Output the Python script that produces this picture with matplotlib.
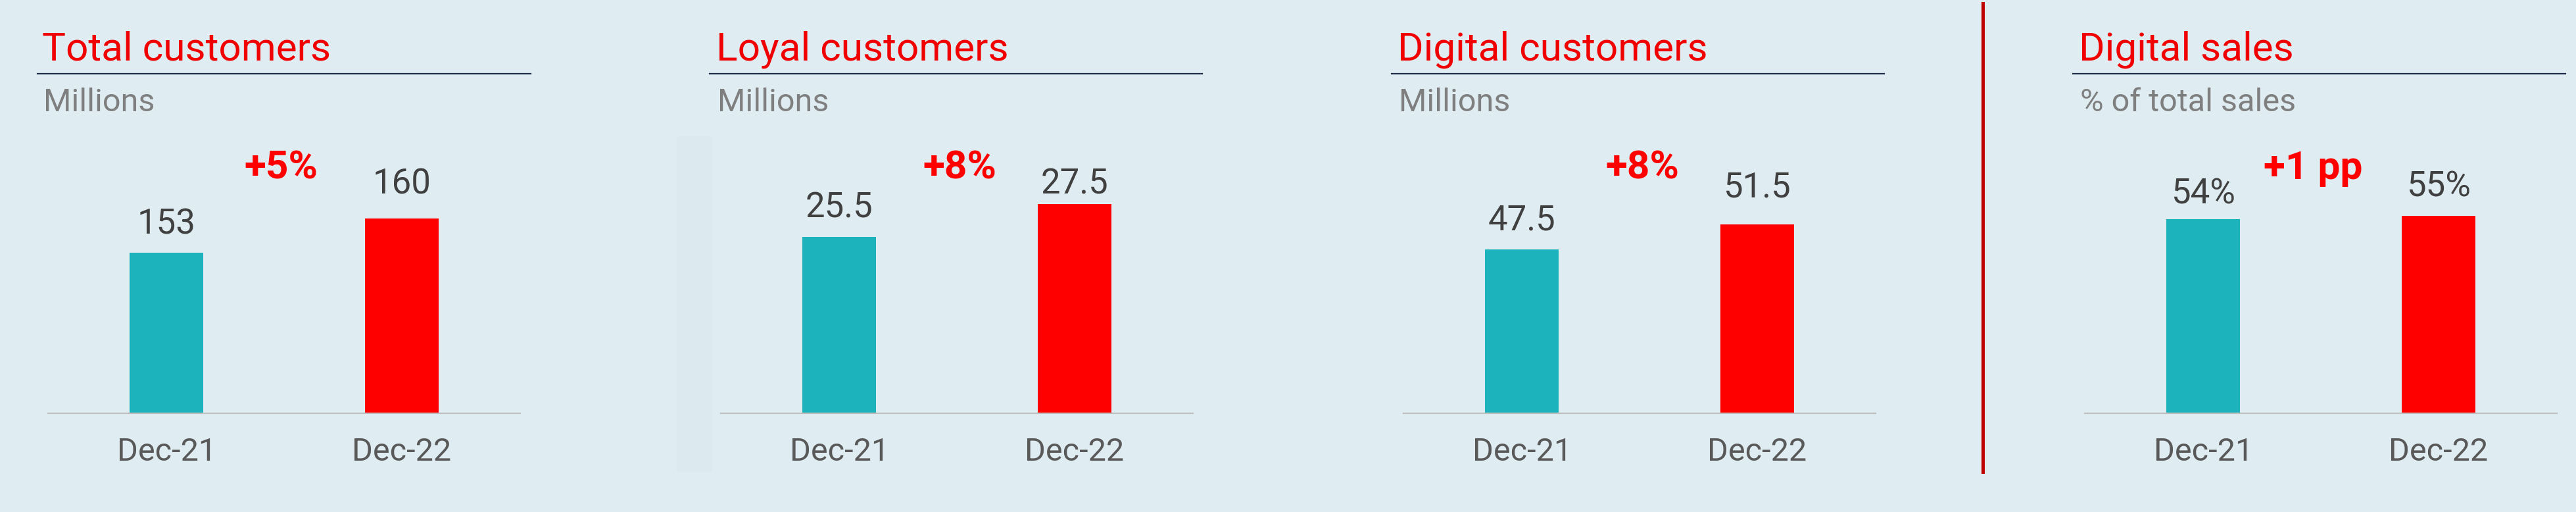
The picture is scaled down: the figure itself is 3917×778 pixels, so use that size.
import matplotlib
matplotlib.use("Agg")
import matplotlib.pyplot as plt
from matplotlib.patches import Rectangle
from matplotlib.lines import Line2D
from matplotlib.transforms import blended_transform_factory

# ---------------- data ----------------
titles = ["Total customers", "Loyal customers", "Digital customers", "Digital sales"]
subtitles = ["Millions", "Millions", "Millions", "% of total sales"]
categories = ["Dec-21", "Dec-22"]
total_customers = [153, 160]
loyal_customers = [25.5, 27.5]
digital_customers = [47.5, 51.5]
digital_sales = [54, 55]
value_labels = [["153", "160"], ["25.5", "27.5"], ["47.5", "51.5"], ["54%", "55%"]]
changes = ["+5%", "+8%", "+8%", "+1 pp"]
series = [total_customers, loyal_customers, digital_customers, digital_sales]

# ---------------- style ----------------
plt.rcParams['font.family'] = ['Roboto', 'DejaVu Sans']
BG = "#DFEDF2"
TEAL = "#1CB3BC"
RED = "#FF0000"
TITLE_RED = "#F00000"
NAVY = "#1F2D4A"
W, H = 3917, 778
DPI = 100

def fx(px):
    return px / W

def fy(py):
    return 1 - py / H

fig = plt.figure(figsize=(W / DPI, H / DPI), dpi=DPI)
fig.patch.set_facecolor(BG)

# layout (pixels)
axes_left = [73, 1096, 2134, 3170]
axes_w = 718
base_y = 628
top_y = 150
title_x = [64, 1089, 2125, 3161]
rule_x = [(57, 807), (1079, 1828), (2116, 2865), (3152, 3901)]
ylims = [(120.2, 184.5), (14.8, 33.9), (21.3, 71.6), (0, 87.5)]
label_gaps = [(29, 38), (30, 16), (30, 42), (24, 29)]  # px above bar top
change_x = [0.486, 0.513, 0.513, 0.467]
change_base = 272

# faint backdrop rectangle in panel 2
fig.patches.append(Rectangle((fx(1030), fy(717)), 52 / W, 510 / H,
                             transform=fig.transFigure, facecolor="#DCEAF0",
                             edgecolor="none", zorder=0))

# red separator
fig.lines.append(Line2D([fx(3015), fx(3015)], [fy(5), fy(717)],
                        transform=fig.transFigure, color="#C00000", lw=3.6))

for i in range(4):
    # title and rule
    fig.text(fx(title_x[i]), fy(91), titles[i], color=TITLE_RED, fontsize=43.5,
             ha="left", va="baseline")
    x0, x1 = rule_x[i]
    fig.lines.append(Line2D([fx(x0), fx(x1)], [fy(112), fy(112)],
                            transform=fig.transFigure, color=NAVY, lw=1.6))
    fig.text(fx(title_x[i] + 2), fy(169), subtitles[i], color="#7F7F7F",
             fontsize=35, ha="left", va="baseline")

    ax = fig.add_axes([fx(axes_left[i]), fy(base_y), axes_w / W, (base_y - top_y) / H])
    ax.set_facecolor("none")
    vals = series[i]
    ax.bar([0, 1], vals, width=0.313, color=[TEAL, RED], zorder=2)
    ax.set_xlim(-0.505, 1.505)
    ax.set_ylim(*ylims[i])
    for s in ["top", "left", "right"]:
        ax.spines[s].set_visible(False)
    ax.spines["bottom"].set_color("#BFBFBF")
    ax.spines["bottom"].set_linewidth(1.6)
    ax.spines["bottom"].set_zorder(3)
    ax.set_yticks([])
    ax.set_xticks([0, 1])
    ax.set_xticklabels(categories, fontsize=35, color="#595959")
    ax.tick_params(axis="x", length=0, pad=26)

    for j in range(2):
        ax.annotate(value_labels[i][j], xy=(j, vals[j]),
                    xytext=(0, label_gaps[i][j] * 72 / DPI), textcoords="offset points",
                    ha="center", va="baseline", fontsize=38, color="#404040")

    tr = blended_transform_factory(ax.transData, fig.transFigure)
    ax.text(change_x[i], fy(change_base), changes[i], transform=tr, ha="center",
            va="baseline", fontsize=43.5, fontweight="bold", color=RED)

fig.savefig("out.png", dpi=DPI, facecolor=BG)
